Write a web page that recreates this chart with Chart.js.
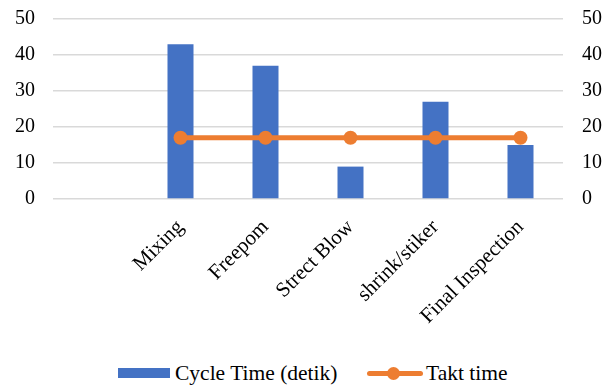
<!DOCTYPE html>
<html>
<head>
<meta charset="utf-8">
<script src="https://cdn.jsdelivr.net/npm/chart.js@4"></script>
<style>
  html, body { margin: 0; padding: 0; background: #fff; overflow: hidden; }
  #wrap { position: relative; width: 616px; height: 387px; overflow: hidden; }
  #chartBox { position: absolute; left: 0; top: -10px; width: 616px; height: 360px; }
  #legend { position: absolute; left: 0; top: 362px; width: 616px; height: 22px;
            font-family: "Times New Roman", "Liberation Serif", serif; font-size: 21.5px; color: #000; }
  .item { position: absolute; top: 0; line-height: 22px; white-space: nowrap; }
  .swatchBar { position: absolute; width: 52px; height: 10px; background: #4472C4; top: 6px; }
  .swatchLine { position: absolute; width: 56px; height: 5px; background: #ED7D31; top: 9px; border-radius: 3px; }
  .swatchDot { position: absolute; width: 13px; height: 13px; background: #ED7D31; border-radius: 50%; top: 5px; }
</style>
</head>
<body>
<div id="wrap">
  <div id="chartBox"><canvas id="myChart"></canvas></div>
  <div id="legend">
    <div class="swatchBar" style="left:118px"></div>
    <div class="item" style="left:175px">Cycle Time (detik)</div>
    <div class="swatchLine" style="left:367px"></div>
    <div class="swatchDot" style="left:387px"></div>
    <div class="item" style="left:426px">Takt time</div>
  </div>
</div>
<script>
// ===================== Data =====================
const categories = ["", "Mixing", "Freepom", "Strect Blow", "shrink/stiker", "Final Inspection"];
const cycleTime = [null, 43, 37, 9, 27, 15];
const taktTime = [null, 17, 17, 17, 17, 17];
const yTicks = [0, 10, 20, 30, 40, 50];
// ===================== Data =====================

const serif = "'Times New Roman', 'Liberation Serif', serif";
const gridColor = "#d9d9d9";
Chart.defaults.font.family = serif;

const ctx = document.getElementById("myChart").getContext("2d");
const chart = new Chart(ctx, {
    type: "bar",
    data: {
        labels: categories,
        datasets: [
            {
                type: "line",
                label: "Takt time",
                data: taktTime,
                borderColor: "#ED7D31",
                backgroundColor: "#ED7D31",
                borderWidth: 5,
                pointRadius: 7,
                pointHoverRadius: 7,
                pointBackgroundColor: "#ED7D31",
                pointBorderWidth: 0,
                yAxisID: "y",
                order: 0
            },
            {
                type: "bar",
                label: "Cycle Time (detik)",
                data: cycleTime,
                backgroundColor: "#4472C4",
                borderWidth: 0,
                barPercentage: 0.306,
                categoryPercentage: 1.0,
                yAxisID: "y",
                order: 1
            }
        ]
    },
    options: {
        responsive: true,
        maintainAspectRatio: false,
        animation: false,
        layout: { padding: { left: 0, right: 0, top: 0, bottom: 0 } },
        plugins: {
            legend: { display: false },
            tooltip: { enabled: false }
        },
        scales: {
            x: {
                grid: { display: false, drawTicks: false },
                border: { display: false },
                afterFit: axis => { axis.height = 151; },
                ticks: {
                    color: "#000",
                    font: { family: serif, size: 21 },
                    minRotation: 45,
                    maxRotation: 45,
                    padding: 16
                }
            },
            y: {
                position: "left",
                min: 0,
                max: 50,
                afterBuildTicks: axis => { axis.ticks = yTicks.map(v => ({ value: v })); },
                afterFit: axis => { axis.width = 53; },
                grid: { color: gridColor, lineWidth: 1.5, drawTicks: false },
                border: { display: false },
                ticks: { color: "#000", font: { family: serif, size: 20, lineHeight: 1 }, padding: 18 }
            },
            y2: {
                position: "right",
                min: 0,
                max: 50,
                afterBuildTicks: axis => { axis.ticks = yTicks.map(v => ({ value: v })); },
                afterFit: axis => { axis.width = 53; },
                grid: { display: false, drawTicks: false },
                border: { display: false },
                ticks: { color: "#000", font: { family: serif, size: 20, lineHeight: 1 }, padding: 19 }
            }
        }
    }
});
</script>
</body>
</html>
